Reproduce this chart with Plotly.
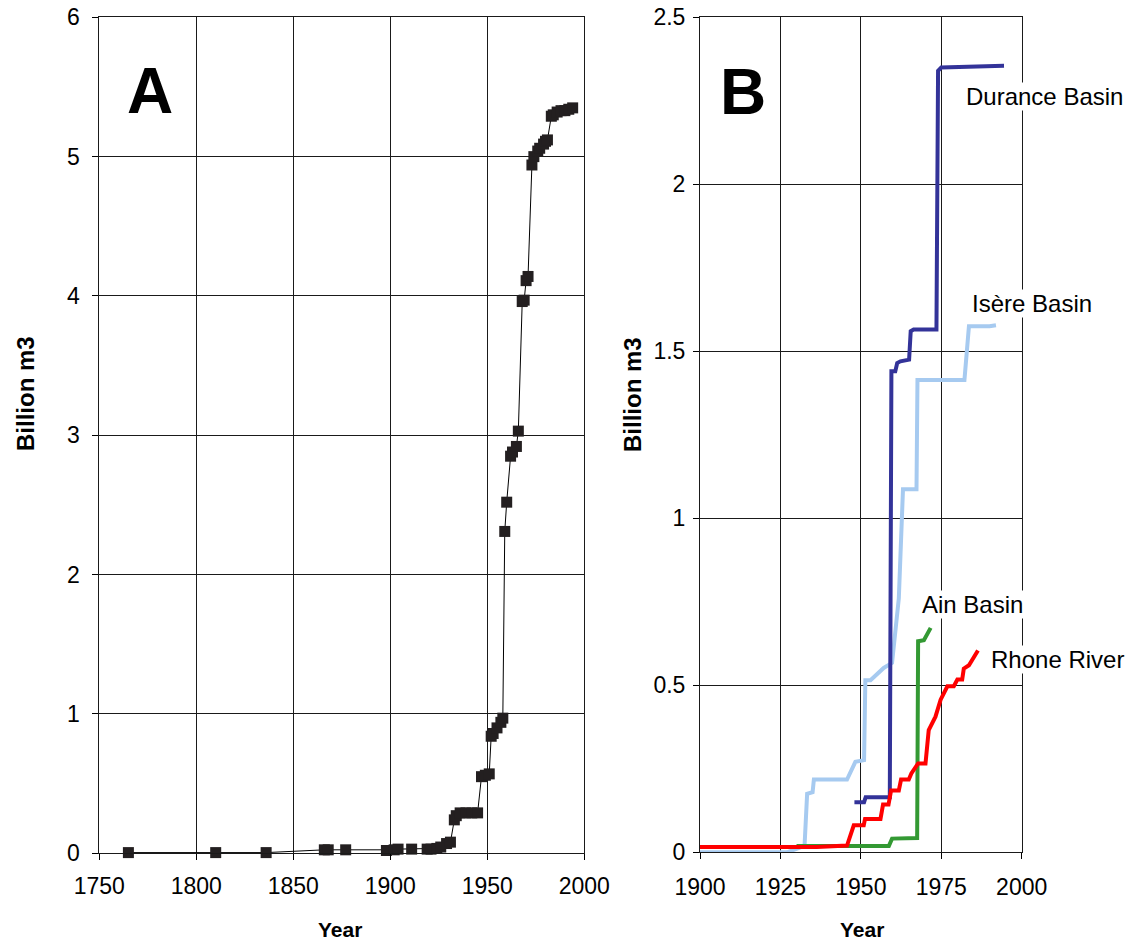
import plotly.graph_objects as go

# ---------------- Panel A data ----------------
years_a = [1765, 1810, 1836, 1866, 1868, 1877, 1898, 1902, 1904, 1911, 1919, 1921, 1924, 1926,
           1929, 1931, 1933, 1934, 1936, 1939, 1942, 1945, 1947, 1949, 1951, 1952, 1953, 1955,
           1957, 1958, 1959, 1960, 1962, 1963, 1965, 1966, 1968, 1969, 1970, 1971, 1973, 1974,
           1976, 1977, 1979, 1980, 1981, 1983, 1984, 1986, 1988, 1990, 1992, 1994]
storage_a = [0.005, 0.005, 0.005, 0.025, 0.025, 0.025, 0.02, 0.025, 0.03, 0.03, 0.03, 0.03, 0.035, 0.045,
             0.07, 0.08, 0.24, 0.27, 0.29, 0.29, 0.29, 0.29, 0.55, 0.56, 0.57, 0.84, 0.86, 0.9,
             0.94, 0.97, 2.31, 2.52, 2.85, 2.88, 2.92, 3.03, 3.96, 3.97, 4.11, 4.14, 4.94, 5.0,
             5.04, 5.06, 5.09, 5.11, 5.12, 5.29, 5.3, 5.32, 5.33, 5.33, 5.34, 5.35]

# ---------------- Panel B data ----------------
durance_years = [1948, 1951, 1951.5, 1959, 1959.5, 1960.7, 1961.3, 1962.3, 1965, 1965.5, 1966.4, 1973.5, 1974, 1975, 1994.5]
durance_vals = [0.15, 0.15, 0.165, 0.165, 1.44, 1.44, 1.465, 1.47, 1.475, 1.56, 1.565, 1.565, 2.34, 2.35, 2.355]

isere_years = [1900, 1927, 1930, 1932.5, 1933.3, 1935, 1935.4, 1945.7, 1948.3, 1951, 1951.4, 1953, 1957.1,
               1959.7, 1961.8, 1963, 1963.1, 1967.3, 1967.6, 1982.2, 1983.6, 1990, 1992]
isere_vals = [0.0, 0.0, 0.01, 0.02, 0.175, 0.18, 0.218, 0.218, 0.271, 0.276, 0.515, 0.515, 0.552,
              0.567, 0.76, 1.04, 1.087, 1.087, 1.414, 1.414, 1.575, 1.575, 1.578]

ain_years = [1930, 1958.7, 1959.7, 1967.5, 1967.8, 1969.6, 1971.7]
ain_vals = [0.019, 0.019, 0.041, 0.043, 0.632, 0.635, 0.672]

rhone_years = [1900, 1936.3, 1945.7, 1947.8, 1950.9, 1951.3, 1956.1, 1956.9, 1958.6, 1959.4, 1961.8, 1962.5,
               1964.9, 1965.7, 1967.8, 1970.1, 1971.1, 1973.2, 1974.8, 1976.9, 1978.9, 1980, 1981.5, 1982,
               1983.6, 1986.4]
rhone_vals = [0.016, 0.016, 0.02, 0.081, 0.081, 0.1, 0.1, 0.143, 0.143, 0.185, 0.185, 0.218,
              0.218, 0.236, 0.266, 0.266, 0.366, 0.406, 0.457, 0.497, 0.497, 0.517, 0.517, 0.55,
              0.56, 0.604]

series_names = ["Durance Basin", "Isère Basin", "Ain Basin", "Rhone River"]
series_colors = ["#333399", "#a6caf0", "#339933", "#ff0000"]

W, H = 1128, 943
FONT = "Arial, Liberation Sans, sans-serif"

fig = go.Figure()

fig.add_trace(go.Scatter(
    x=years_a, y=storage_a, mode="lines+markers",
    line=dict(color="#000000", width=1),
    marker=dict(symbol="square", size=11, color="#231f20"),
    xaxis="x", yaxis="y", showlegend=False, cliponaxis=False))

for yrs, vals, name, col in [(isere_years, isere_vals, series_names[1], series_colors[1]),
                             (ain_years, ain_vals, series_names[2], series_colors[2]),
                             (durance_years, durance_vals, series_names[0], series_colors[0]),
                             (rhone_years, rhone_vals, series_names[3], series_colors[3])]:
    fig.add_trace(go.Scatter(x=yrs, y=vals, mode="lines", name=name,
                             line=dict(color=col, width=4),
                             xaxis="x2", yaxis="y2", showlegend=False))

def px_x(p):
    return p / W

def px_y(p):
    return 1 - p / H

axis_common = dict(showline=True, linecolor="#1a1a1a", linewidth=1, mirror=True,
                   showgrid=True, gridcolor="#1a1a1a", gridwidth=1,
                   zeroline=False, ticks="outside", ticklen=6, tickcolor="#000000",
                   automargin=False, ticklabeloverflow="allow",
                   tickfont=dict(family=FONT, size=23, color="#000000"))

fig.update_layout(
    width=W, height=H,
    margin=dict(l=0, r=0, t=0, b=0, pad=0, autoexpand=False),
    paper_bgcolor="white", plot_bgcolor="white",
    xaxis=dict(domain=[px_x(99.3), px_x(584.3)], range=[1750, 2000], dtick=50, tick0=1750,
               anchor="y", ticklabelstandoff=6, **axis_common),
    yaxis=dict(domain=[px_y(853.3), px_y(17.3)], range=[0, 6], dtick=1,
               anchor="x", ticklabelstandoff=8, **axis_common),
    xaxis2=dict(domain=[px_x(700), px_x(1021.7)], range=[1900, 2000], dtick=25, tick0=1900,
                anchor="y2", ticklabelstandoff=8, **axis_common),
    yaxis2=dict(domain=[px_y(852.3), px_y(17.3)], range=[0, 2.5], dtick=0.5,
                anchor="x2", ticklabelstandoff=3, **axis_common),
)

annotations = [
    dict(text="<b>A</b>", x=1775.9, y=5.47, xref="x", yref="y", showarrow=False,
         font=dict(family=FONT, size=64, color="#000000"), xanchor="center", yanchor="middle"),
    dict(text="<b>B</b>", x=1913.4, y=2.275, xref="x2", yref="y2", showarrow=False,
         font=dict(family=FONT, size=64, color="#000000"), xanchor="center", yanchor="middle"),
    dict(text="<b>Billion m3</b>", x=px_x(25), y=px_y(394), xref="paper", yref="paper",
         showarrow=False, textangle=-90, font=dict(family=FONT, size=24, color="#000000"),
         xanchor="center", yanchor="middle"),
    dict(text="<b>Billion m3</b>", x=px_x(633), y=px_y(395), xref="paper", yref="paper",
         showarrow=False, textangle=-90, font=dict(family=FONT, size=24, color="#000000"),
         xanchor="center", yanchor="middle"),
    dict(text="<b>Year</b>", x=px_x(340), y=px_y(929.5), xref="paper", yref="paper",
         showarrow=False, font=dict(family=FONT, size=21, color="#000000"),
         xanchor="center", yanchor="middle", borderpad=0),
    dict(text="<b>Year</b>", x=px_x(862), y=px_y(929.5), xref="paper", yref="paper",
         showarrow=False, font=dict(family=FONT, size=21, color="#000000"),
         xanchor="center", yanchor="middle", borderpad=0),
]

label_pos = {"Durance Basin": (1982.5, 2.264), "Isère Basin": (1984.1, 1.643),
             "Ain Basin": (1968.8, 0.742), "Rhone River": (1990.0, 0.577)}
for name in series_names:
    lx, ly = label_pos[name]
    annotations.append(dict(text=name, x=lx, y=ly, xref="x2", yref="y2", showarrow=False,
                            font=dict(family=FONT, size=24, color="#000000"),
                            xanchor="left", yanchor="middle", bgcolor="white", borderpad=0))

fig.update_layout(annotations=annotations)

fig.write_html("out.html", config={"displayModeBar": False},
               post_script="document.body.style.margin='0px';document.body.style.overflow='hidden';")
